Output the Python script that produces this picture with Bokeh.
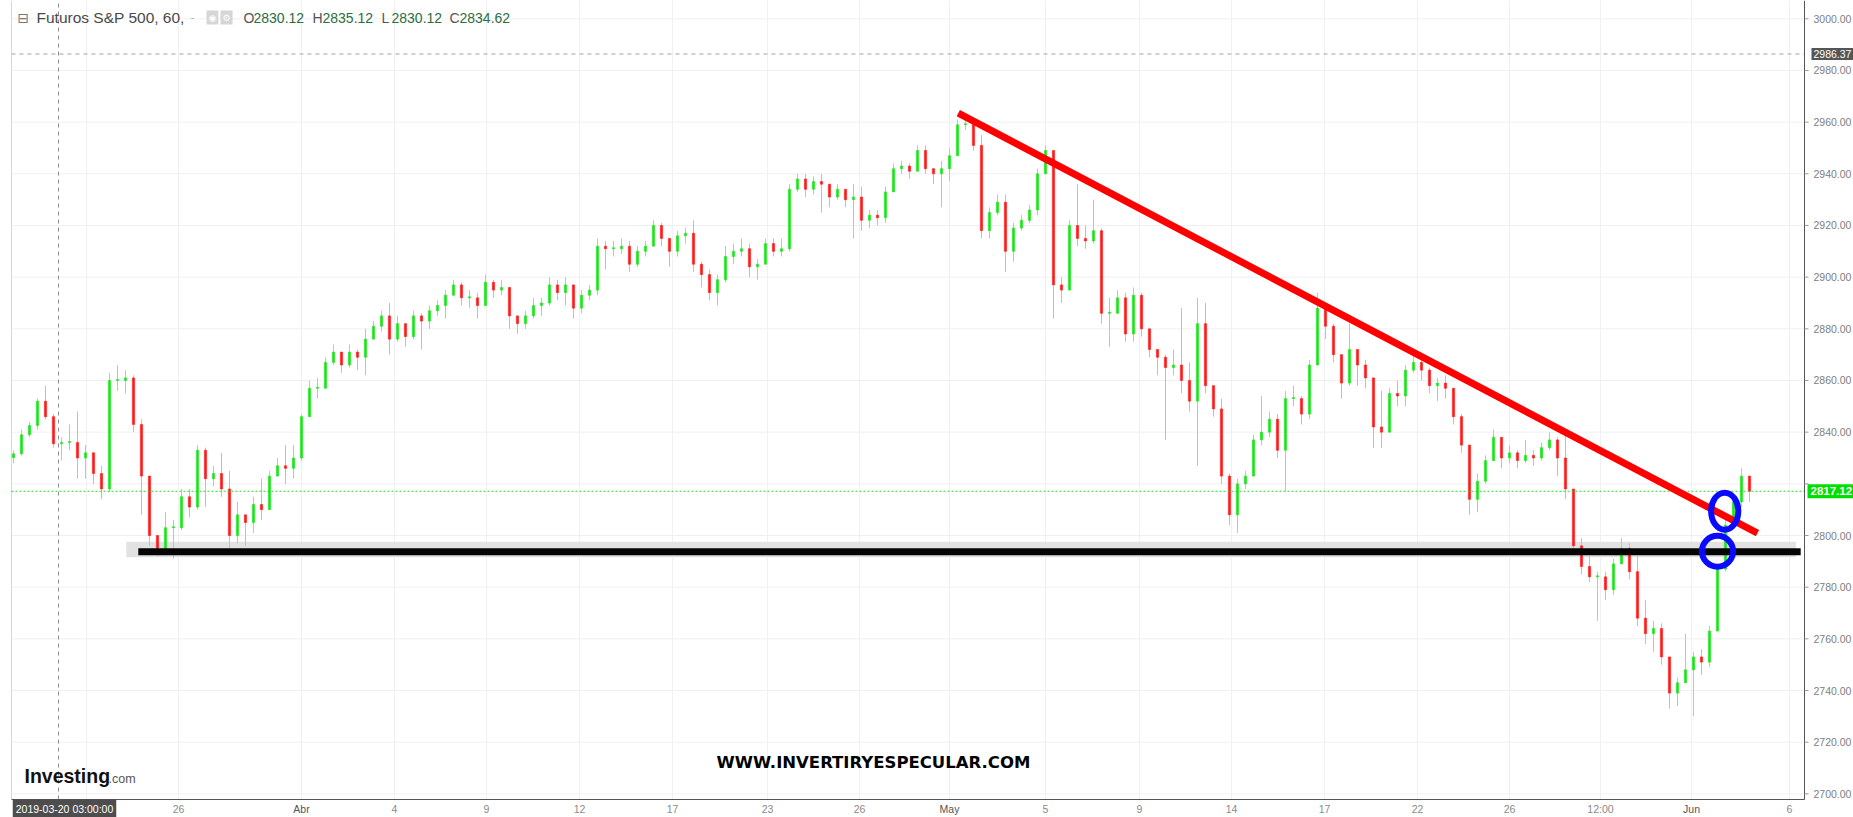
from bokeh.plotting import figure
from bokeh.models import Label, Range1d, ColumnDataSource
from bokeh.core.properties import value
from bokeh.embed import file_html
from bokeh.resources import INLINE

# ---------------- data (hourly S&P 500 futures) -------------
close = [
    2831.6, 2839, 2842.6, 2852, 2846, 2835.5, 2836, 2836, 2830, 2832,
    2824, 2818, 2860, 2860, 2861, 2843, 2823, 2800, 2795, 2803,
    2803, 2815, 2811, 2833, 2822, 2824, 2818, 2800, 2808, 2805,
    2812, 2810, 2823, 2827, 2826, 2830, 2846, 2857, 2857, 2867,
    2871, 2866, 2871, 2869, 2876, 2881, 2885, 2876, 2882, 2877,
    2885, 2883, 2887, 2889, 2893, 2897, 2892, 2892, 2889, 2898,
    2895, 2896, 2885, 2882, 2885, 2889, 2890, 2897, 2894, 2897,
    2888, 2893, 2895, 2912, 2911, 2911, 2912, 2905, 2910, 2912,
    2920, 2915, 2910, 2916, 2917, 2905, 2901, 2894, 2899, 2908,
    2910, 2911, 2904, 2905, 2913, 2910, 2911, 2934, 2938, 2934,
    2937, 2936, 2931, 2934, 2930, 2931, 2922, 2924, 2923, 2933,
    2942, 2943, 2941, 2949, 2942, 2940, 2942, 2947, 2959, 2959,
    2951, 2918, 2925, 2929, 2910, 2919, 2922, 2926, 2940, 2949,
    2897, 2895, 2920, 2915, 2914, 2918, 2886, 2886, 2892, 2878,
    2893, 2880, 2872, 2869, 2865, 2866, 2860, 2852, 2882, 2858,
    2849, 2823, 2808, 2820, 2823, 2837, 2840, 2845, 2833, 2853,
    2853, 2847, 2866, 2888, 2881, 2870, 2859, 2872, 2866, 2861,
    2842, 2840, 2855, 2854, 2864, 2867, 2864, 2858, 2859, 2857,
    2846, 2835, 2814, 2821, 2829, 2838, 2830, 2832, 2829, 2831,
    2830, 2834, 2837, 2830, 2818, 2796, 2788, 2784, 2784, 2779,
    2789, 2795, 2786, 2768, 2762, 2764, 2753, 2739, 2743, 2748,
    2753, 2751, 2763, 2787, 2804, 2813, 2823, 2817.12,
]
high = [
    2833, 2841, 2844, 2853, 2858, 2847, 2838, 2843, 2848, 2835,
    2830, 2827, 2863, 2866, 2864, 2862, 2845, 2812, 2800, 2809,
    2806, 2818, 2818, 2835, 2834, 2827, 2832, 2825, 2813, 2808,
    2815, 2822, 2825, 2830, 2835, 2835, 2847, 2860, 2861, 2869,
    2874, 2870, 2874, 2872, 2880, 2883, 2887, 2890, 2885, 2881,
    2887, 2886, 2889, 2891, 2895, 2899, 2898, 2895, 2894, 2901,
    2899, 2899, 2896, 2885, 2887, 2892, 2892, 2900, 2899, 2900,
    2897, 2895, 2897, 2915, 2914, 2914, 2915, 2914, 2912, 2914,
    2922, 2921, 2914, 2918, 2919, 2922, 2906, 2903, 2901, 2912,
    2913, 2915, 2913, 2907, 2915, 2915, 2915, 2936, 2940, 2940,
    2939, 2940, 2934, 2936, 2934, 2936, 2935, 2926, 2926, 2935,
    2944, 2945, 2944, 2951, 2951, 2942, 2945, 2950, 2961, 2962,
    2960, 2955, 2927, 2932, 2932, 2921, 2924, 2928, 2942, 2951,
    2949, 2900, 2922, 2936, 2920, 2930, 2919, 2892, 2895, 2894,
    2896, 2894, 2878, 2872, 2870, 2872, 2888, 2867, 2892, 2890,
    2858, 2853, 2824, 2822, 2825, 2839, 2854, 2848, 2847, 2856,
    2858, 2854, 2868, 2894, 2889, 2882, 2870, 2882, 2870, 2868,
    2858, 2856, 2857, 2860, 2866, 2870, 2869, 2865, 2861, 2862,
    2856, 2847, 2835, 2824, 2831, 2841, 2838, 2835, 2833, 2837,
    2833, 2836, 2840, 2838, 2840, 2818, 2799, 2792, 2786, 2786,
    2791, 2799, 2797, 2792, 2775, 2767, 2766, 2753, 2745, 2762,
    2755, 2756, 2765, 2789, 2806, 2815, 2826, 2823,
]
low = [
    2828, 2831, 2838, 2841, 2845, 2834, 2829, 2833, 2822, 2822,
    2820, 2814, 2817, 2856, 2855, 2840, 2808, 2796, 2792, 2793,
    2791, 2802, 2807, 2810, 2811, 2819, 2815, 2795, 2797, 2796,
    2801, 2806, 2810, 2823, 2820, 2822, 2829, 2851, 2853, 2860,
    2866, 2863, 2865, 2864, 2862, 2877, 2879, 2870, 2875, 2873,
    2876, 2872, 2880, 2885, 2884, 2893, 2889, 2888, 2884, 2890,
    2892, 2893, 2880, 2878, 2880, 2884, 2885, 2889, 2891, 2889,
    2884, 2886, 2891, 2893, 2903, 2908, 2909, 2902, 2904, 2908,
    2912, 2912, 2904, 2908, 2913, 2902, 2896, 2891, 2889, 2898,
    2905, 2908, 2900, 2899, 2905, 2908, 2908, 2910, 2933, 2931,
    2932, 2925, 2927, 2930, 2927, 2915, 2918, 2919, 2920, 2921,
    2934, 2940, 2938, 2941, 2940, 2936, 2927, 2937, 2952, 2957,
    2949, 2915, 2915, 2924, 2902, 2906, 2918, 2921, 2924, 2941,
    2884, 2890, 2900, 2912, 2911, 2913, 2882, 2873, 2886, 2875,
    2875, 2877, 2869, 2862, 2837, 2862, 2855, 2848, 2827, 2855,
    2846, 2820, 2804, 2801, 2818, 2824, 2835, 2838, 2830, 2817,
    2850, 2843, 2845, 2866, 2876, 2867, 2853, 2858, 2858, 2857,
    2834, 2834, 2840, 2850, 2850, 2863, 2860, 2855, 2852, 2853,
    2843, 2832, 2808, 2809, 2820, 2830, 2826, 2828, 2826, 2828,
    2827, 2829, 2833, 2823, 2814, 2793, 2785, 2782, 2767, 2775,
    2777, 2789, 2783, 2765, 2758, 2755, 2750, 2733, 2734, 2745,
    2730, 2746, 2749, 2763, 2786, 2804, 2811, 2813,
]
first_open = 2830.12

# time axis (bar-index positions of the date ticks)
tick_pos = [9.125, 20.625, 36.0, 47.625, 59.125, 70.75, 82.375, 94.25, 105.75, 117.0,
            129.0, 140.75, 152.25, 163.875, 175.5, 187.0, 198.375, 209.75, 222.0]
tick_labels = ["", "26", "Abr", "4", "9", "12", "17", "23", "26", "May",
               "5", "9", "14", "17", "22", "26", "12:00", "Jun", "6"]
month_labels = ["Abr", "May", "Jun"]
price_ticks = [2700, 2720, 2740, 2760, 2780, 2800, 2820, 2840, 2860, 2880,
               2900, 2920, 2940, 2960, 2980, 3000]
hidden_price_ticks = [2820]          # covered by the last-price box

last_price = 2817.12
cross_price = 2986.37
cross_idx = 5.625
cross_label = "2019-03-20 03:00:00"
header_title = "Futuros S&P 500, 60,"
ohlc_names = ["O", "H", "L", "C"]
ohlc_values = ["2830.12", "2835.12", "2830.12", "2834.62"]

# drawings on the chart
trend_x = [118.1, 218.0]
trend_y = [2963.5, 2800.9]
support_x = [15.6, 223.4]
support_y = [2793.7, 2793.7]
band_left, band_right = [14.1], [222.8]
band_bottom, band_top = [2791.6], [2797.6]
circle_x = [213.9, 213.0]
circle_y = [2809.4, 2793.9]
circle_w = [3.4, 3.9]
circle_h = [14.4, 12.0]

# ---------------- layout helpers (pixel -> data) ----------------
W, H = 1853, 817
def px_idx(px):
    return (px - 13) / 8.0

def py_price(py):
    return 2800 + (535 - py) / 2.5835

PANE_L, PANE_R = px_idx(11), px_idx(1804)
PANE_B, PANE_T = py_price(799), py_price(0)

SANS = "Liberation Sans"

p = figure(width=W, height=H,
           x_range=Range1d(px_idx(0), px_idx(W)), y_range=Range1d(py_price(H), py_price(0)),
           output_backend="svg", toolbar_location=None,
           x_axis_location=None, y_axis_location=None,
           min_border=0, min_border_left=0, min_border_right=0,
           min_border_top=0, min_border_bottom=0, title=None)
p.background_fill_color = "white"
p.border_fill_color = "white"
p.outline_line_color = None
p.xgrid.visible = False
p.ygrid.visible = False

# ---- grid ----
n_pt = len(price_ticks)
p.segment(x0=[PANE_L] * n_pt, y0=price_ticks, x1=[PANE_R] * n_pt, y1=price_ticks,
          line_color="#f0f0f0", line_width=1)
n_tt = len(tick_pos)
p.segment(x0=tick_pos, y0=[PANE_B] * n_tt, x1=tick_pos, y1=[PANE_T] * n_tt,
          line_color="#f0f0f0", line_width=1)
# left border of pane
p.segment(x0=[PANE_L], y0=[PANE_B], x1=[PANE_L], y1=[PANE_T], line_color="#d8d8d8", line_width=1)

# support band behind the black line
p.quad(left=band_left, right=band_right, bottom=band_bottom, top=band_top,
       fill_color="#e2e2e2", line_color=None)

# ---- candles ----
opens = [first_open] + close[:-1]
xs = list(range(len(close)))
hi = [max(h, o, c) for h, o, c in zip(high, opens, close)]
lo = [min(l, o, c) for l, o, c in zip(low, opens, close)]
up = [c >= o for o, c in zip(opens, close)]
body_col = ["#19e619" if u else "#ff1a1a" for u in up]
wick_col = ["#a9cbd6" if u else "#f7a9a9" for u in up]
b_bot = [min(o, c) for o, c in zip(opens, close)]
b_top = [max(max(o, c), min(o, c) + 0.4) for o, c in zip(opens, close)]
src = ColumnDataSource(dict(x=xs, h=hi, l=lo, top=b_top, bottom=b_bot, body=body_col, wick=wick_col))
p.segment(x0="x", y0="l", x1="x", y1="h", line_color="wick", line_width=1, source=src)
p.vbar(x="x", width=0.28, top="top", bottom="bottom", fill_color="body", line_color="body",
       line_width=0.6, source=src)

# ---- crosshair & last price line (inside pane) ----
p.segment(x0=[cross_idx], y0=[PANE_B], x1=[cross_idx], y1=[PANE_T],
          line_color="#8c8c8c", line_dash="4 4", line_width=1)
p.segment(x0=[PANE_L], y0=[cross_price], x1=[PANE_R], y1=[cross_price],
          line_color="#a0a0a0", line_dash="4 4", line_width=1)
p.segment(x0=[PANE_L], y0=[last_price], x1=[PANE_R], y1=[last_price],
          line_color="#22dd22", line_dash="2 2", line_width=1)

# ---- drawings ----
p.line(support_x, support_y, line_color="#050505", line_width=7)
p.line(trend_x, trend_y, line_color="#ff0000", line_width=7)
p.ellipse(x=circle_x, y=circle_y, width=circle_w, height=circle_h,
          fill_color=None, line_color="#0a0aff", line_width=6)

# ---- axes (drawn by hand so that the value boxes can sit on them) ----
p.segment(x0=[PANE_L], y0=[PANE_B], x1=[PANE_R], y1=[PANE_B], line_color="#555555", line_width=1)
p.segment(x0=[PANE_R], y0=[PANE_B], x1=[PANE_R], y1=[PANE_T], line_color="#555555", line_width=1)
p.segment(x0=[PANE_R] * n_pt, y0=price_ticks, x1=[px_idx(1808)] * n_pt, y1=price_ticks,
          line_color="#999999", line_width=1)
shown = [t for t in price_ticks if t not in hidden_price_ticks]
p.text(x=[px_idx(1813)] * len(shown), y=shown, text=[f"{t:.2f}" for t in shown],
       text_font=value(SANS), text_font_size="10.5px", text_color="#808080",
       text_baseline="middle", text_align="left")
xl_col = ["#555555" if l in month_labels else "#8a8a8a" for l in tick_labels]
p.text(x=tick_pos, y=[py_price(808)] * n_tt, text=tick_labels, text_color=xl_col,
       text_font=value(SANS), text_font_size="10.5px",
       text_baseline="middle", text_align="center")

# ---------------- header / labels ----------------
hy = py_price(17)
p.add_layout(Label(x=px_idx(17), y=hy, text="⊟", text_font="DejaVu Sans", text_font_size="14px",
                   text_color="#777777", text_baseline="middle"))
p.add_layout(Label(x=px_idx(36), y=hy, text=header_title, text_font=SANS, text_font_size="15.5px",
                   text_color="#4a4a4a", text_baseline="middle"))
p.add_layout(Label(x=px_idx(190), y=hy, text="-", text_font=SANS, text_font_size="12px",
                   text_color="#bbbbbb", text_baseline="middle"))
p.add_layout(Label(x=px_idx(206), y=hy, text="◉", text_font="DejaVu Sans", text_font_size="9px",
                   text_color="white", text_baseline="middle", background_fill_color="#d6d6d6",
                   padding=2))
p.add_layout(Label(x=px_idx(220), y=hy, text="⚙", text_font="DejaVu Sans", text_font_size="9px",
                   text_color="white", text_baseline="middle", background_fill_color="#d6d6d6",
                   padding=2))
name_px = [243, 312, 381, 449]
for nm, val, npx in zip(ohlc_names, ohlc_values, name_px):
    p.add_layout(Label(x=px_idx(npx), y=hy, text=nm, text_font=SANS, text_font_size="14px",
                       text_color="#555555", text_baseline="middle"))
    p.add_layout(Label(x=px_idx(npx + 10), y=hy, text=val, text_font=SANS, text_font_size="14px",
                       text_color="#2b6e3f", text_baseline="middle"))

# axis value boxes
p.add_layout(Label(x=px_idx(1811), y=cross_price, text=f"{cross_price:.2f}", text_font=SANS,
                   text_font_size="10.5px", text_color="white", text_baseline="middle",
                   background_fill_color="#555555", padding=2))
p.add_layout(Label(x=px_idx(1807), y=last_price, text=f"{last_price:.2f}", text_font=SANS,
                   text_font_size="11.5px", text_font_style="bold", text_color="white",
                   text_baseline="middle", background_fill_color="#00e000", padding=3))
p.add_layout(Label(x=px_idx(64), y=py_price(808), text=cross_label, text_font=SANS,
                   text_font_size="10.5px", text_color="white", text_baseline="middle",
                   text_align="center", background_fill_color="#4d4d4d", padding=3))

# logo + watermark
p.add_layout(Label(x=px_idx(24), y=py_price(775), text="Investing", text_font=SANS,
                   text_font_style="bold", text_font_size="19.5px", text_color="#111111",
                   text_baseline="middle"))
p.add_layout(Label(x=px_idx(108), y=py_price(778), text=".com", text_font=SANS,
                   text_font_size="12.5px", text_color="#555555", text_baseline="middle"))
p.add_layout(Label(x=px_idx(873), y=py_price(762), text="WWW.INVERTIRYESPECULAR.COM",
                   text_font="DejaVu Sans", text_font_style="bold", text_font_size="16.5px",
                   text_color="#000000", text_baseline="middle", text_align="center"))

open("out.html", "w").write(file_html(p, INLINE))
